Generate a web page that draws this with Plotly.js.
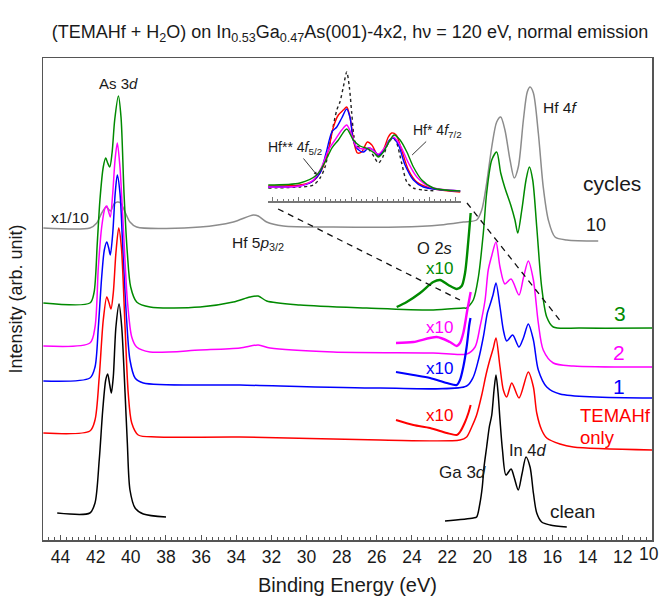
<!DOCTYPE html>
<html>
<head>
<meta charset="utf-8">
<script src="https://cdn.plot.ly/plotly-3.0.1.min.js"></script>
<style>html,body{margin:0;padding:0;background:#fff;}#chart{width:661px;height:602px;}</style>
</head>
<body>
<div id="chart"></div>
<script>
// ---- Main panel: binding energy (eV) and intensity (arb. unit, with stacking offsets) ----
// clean: As 3d segment and Ga 3d / In 4d segment
const cleanAsE = [44.19, 42.33, 42.04, 41.80, 41.60, 41.43, 41.32, 41.20, 41.11, 41.00, 40.85, 40.67, 40.52, 40.33, 40.20, 40.05, 39.76, 39.29, 38.00];
const cleanAsI = [27, 27, 37, 80, 130, 160, 166, 155, 147, 163, 213, 236, 213, 147, 97, 50, 32, 26, 23];
const cleanGaE = [22.12, 20.51, 20.32, 20.13, 20.00, 19.90, 19.75, 19.60, 19.46, 19.33, 19.22, 19.10, 18.99, 18.85, 18.65, 18.36, 18.19, 17.95, 17.74, 17.51, 17.28, 17.09, 16.90, 16.62, 16.14, 15.19];
const cleanGaI = [19, 22, 23, 37, 53, 73, 93, 113, 125, 150, 165, 147, 120, 90, 65, 71, 63, 50, 66, 83, 73, 47, 27, 18, 15, 13];

// TEMAHf only
const temahfE = [44.98, 42.33, 42.04, 41.80, 41.57, 41.37, 41.24, 41.13, 41.00, 40.85, 40.69, 40.54, 40.33, 40.15, 39.95, 39.58, 38.53, 33.79, 25.82, 21.27, 20.89, 20.60, 20.32, 20.03, 19.79, 19.62, 19.37, 19.22, 18.99, 18.80, 18.61, 18.32, 17.91, 17.38, 17.09, 16.90, 16.62, 16.33, 15.58, 14.82, 10.26];
const temahfI = [107, 109, 120, 163, 220, 243, 237, 231, 247, 287, 312, 293, 213, 147, 117, 105, 103, 103, 100, 100, 103, 113, 125, 145, 165, 177, 192, 202, 173, 150, 143, 157, 142, 168, 153, 127, 110, 102, 96, 93, 90];
const temahfX10E = [24.91, 23.92, 22.97, 22.02, 21.45, 21.27, 20.98, 20.79, 20.66];
const temahfX10I = [120, 115, 112, 107, 105, 108, 118, 127, 135];

// 1 cycle
const cyc1E = [44.98, 42.33, 42.04, 41.85, 41.66, 41.51, 41.37, 41.26, 41.17, 41.03, 40.89, 40.77, 40.62, 40.43, 40.24, 40.05, 39.76, 39.29, 33.79, 25.82, 20.89, 20.51, 20.22, 19.94, 19.71, 19.60, 19.39, 19.22, 18.99, 18.80, 18.61, 18.27, 17.91, 17.66, 17.38, 17.09, 16.81, 16.33, 15.58, 10.26];
const cyc1I = [159, 162, 173, 213, 263, 290, 298, 292, 285, 307, 347, 365, 347, 280, 220, 180, 162, 157, 155, 152, 154, 163, 180, 203, 227, 233, 245, 257, 233, 210, 199, 205, 193, 202, 216, 200, 170, 153, 146, 142];
const cyc1X10E = [24.91, 23.92, 22.97, 22.02, 21.45, 21.27, 21.08, 20.89, 20.74, 20.67];
const cyc1X10I = [168, 165, 162, 157, 155, 160, 173, 193, 215, 222];

// 2 cycles
const cyc2E = [44.98, 42.33, 42.04, 41.85, 41.66, 41.47, 41.37, 41.26, 41.17, 41.03, 40.90, 40.77, 40.62, 40.43, 40.20, 39.95, 39.67, 38.91, 36.06, 33.79, 32.75, 32.08, 28.49, 22.80, 20.89, 20.41, 20.13, 19.84, 19.66, 19.45, 19.22, 18.99, 18.71, 18.36, 17.91, 17.66, 17.38, 17.09, 16.81, 16.53, 15.96, 14.82, 10.26];
const cyc2I = [194, 197, 213, 273, 313, 332, 334, 328, 323, 347, 380, 397, 373, 313, 240, 203, 193, 188, 190, 192, 195, 192, 188, 187, 186, 193, 213, 240, 270, 285, 298, 273, 256, 261, 245, 262, 279, 260, 217, 190, 177, 174, 173];
const cyc2X10E = [24.91, 23.92, 22.59, 21.84, 21.45, 21.27, 21.08, 20.85, 20.66];
const cyc2X10I = [197, 198, 203, 198, 194, 197, 207, 230, 248];

// 3 cycles
const cyc3E = [44.98, 42.33, 42.10, 41.91, 41.76, 41.57, 41.43, 41.32, 41.20, 41.07, 40.92, 40.71, 40.56, 40.39, 40.20, 40.01, 39.67, 38.91, 36.06, 34.17, 33.22, 32.75, 32.27, 30.37, 26.58, 22.79, 21.08, 20.89, 20.51, 20.22, 19.94, 19.75, 19.46, 19.18, 18.95, 18.71, 18.38, 18.14, 17.98, 17.75, 17.51, 17.32, 17.13, 16.90, 16.62, 16.33, 15.96, 14.44, 10.28];
const cyc3I = [237, 237, 247, 297, 340, 373, 382, 377, 373, 387, 420, 444, 423, 347, 287, 253, 238, 233, 233, 238, 243, 244, 239, 235, 232, 230, 232, 232, 240, 263, 307, 347, 380, 388, 367, 352, 335, 320, 307, 330, 360, 373, 360, 313, 253, 223, 213, 212, 212];
const cyc3X10E = [24.87, 24.30, 23.54, 22.79, 22.40, 21.93, 21.45, 21.17, 20.98, 20.79, 20.66];
const cyc3X10I = [233, 238, 247, 258, 260, 255, 251, 254, 267, 300, 327];

// 10 cycles (x1/10 in the As 3d region)
const cyc10E = [44.98, 42.33, 41.94, 41.66, 41.41, 41.28, 41.15, 40.96, 40.77, 40.58, 40.33, 40.05, 39.67, 36.06, 34.17, 33.03, 32.75, 32.27, 31.32, 28.48, 24.68, 22.40, 21.08, 20.32, 20.03, 19.75, 19.46, 19.18, 18.95, 18.71, 18.42, 18.18, 17.95, 17.66, 17.44, 17.28, 17.09, 16.81, 16.53, 16.24, 15.86, 15.19, 13.40];
const cyc10I = [312, 312, 317, 327, 333, 331, 329, 336, 338, 337, 328, 318, 313, 313, 318, 325, 324, 318, 314, 313, 313, 315, 318, 320, 330, 357, 393, 418, 423, 410, 380, 362, 373, 420, 448, 453, 447, 407, 353, 320, 303, 300, 299];

// ---- Inset: Hf 4f region, binding energy (eV) and intensity ----
const insCleanE = [22.17, 20.96, 20.45, 20.19, 20.00, 19.74, 19.55, 19.43, 19.30, 19.17, 19.07, 18.98, 18.89, 18.79, 18.53, 18.34, 18.12, 17.96, 17.79, 17.58, 17.39, 17.26, 17.07, 16.87, 16.62, 16.24, 15.73];
const insCleanI = [13, 14, 16, 23, 34, 68, 91, 99, 114, 129, 114, 88, 64, 55, 53, 52, 44, 38, 44, 58, 63, 58, 38, 19, 13, 11, 10];
const insTemahfE = [22.17, 20.96, 20.45, 20.13, 19.87, 19.68, 19.49, 19.30, 19.17, 19.04, 18.89, 18.76, 18.60, 18.38, 18.21, 17.96, 17.77, 17.58, 17.45, 17.28, 17.07, 16.81, 16.49, 15.98, 14.83];
const insTemahfI = [15, 16, 20, 31, 51, 74, 86, 91, 94, 83, 58, 48, 49, 59, 56, 45, 51, 64, 68, 66, 51, 31, 19, 13, 9];
const insCyc1E = [22.17, 20.96, 20.51, 20.19, 19.96, 19.74, 19.55, 19.36, 19.17, 19.04, 18.92, 18.76, 18.53, 18.34, 18.15, 17.96, 17.74, 17.54, 17.39, 17.19, 16.94, 16.62, 16.24, 14.83];
const insCyc1I = [14, 15, 19, 28, 48, 69, 74, 83, 92, 83, 61, 52, 49, 53, 51, 46, 51, 61, 63, 56, 36, 21, 14, 10];
const insCyc2E = [22.17, 20.96, 20.45, 20.13, 19.87, 19.62, 19.36, 19.17, 18.98, 18.79, 18.53, 18.28, 17.96, 17.70, 17.39, 17.13, 16.81, 16.49, 15.98, 14.83];
const insCyc2I = [14, 15, 21, 34, 51, 61, 71, 76, 66, 54, 52, 53, 47, 54, 64, 56, 38, 24, 14, 10];
const insCyc3E = [22.17, 20.96, 20.32, 20.00, 19.74, 19.49, 19.17, 18.92, 18.66, 18.34, 18.12, 17.96, 17.77, 17.51, 17.36, 17.13, 16.87, 16.62, 16.30, 15.86, 14.83];
const insCyc3I = [16, 18, 26, 39, 53, 61, 72, 61, 55, 52, 48, 44, 49, 61, 66, 61, 49, 34, 21, 13, 10];

// ---- Axis ticks ----
const xTickVals = [44, 42, 40, 38, 36, 34, 32, 30, 28, 26, 24, 22, 20, 18, 16, 14, 12, 10];
const xTickText = ['44', '42', '40', '38', '36', '34', '32', '30', '28', '26', '24', '22', '20', '18', '16', '14', '12', '10'];

const X_MIN = 45, X_MAX = 10.34;

const C = {black: '#000000', red: '#ff0000', blue: '#0000ff', magenta: '#ff00ff', green: '#008a00', gray: '#8c8c8c'};

function mainLine(x, y, color, width) {
  return {x: x, y: y, type: 'scatter', mode: 'lines', xaxis: 'x', yaxis: 'y',
          line: {color: color, width: width || 1.5, shape: 'spline', smoothing: 0.8},
          hoverinfo: 'skip', showlegend: false};
}
function insetLine(x, y, color, dash) {
  return {x: x, y: y, type: 'scatter', mode: 'lines', xaxis: 'x2', yaxis: 'y2',
          line: {color: color, width: 1.4, shape: 'spline', smoothing: 0.8, dash: dash || 'solid'},
          hoverinfo: 'skip', showlegend: false};
}

const traces = [
  mainLine(cyc10E, cyc10I, C.gray),
  mainLine(cyc3E, cyc3I, C.green),
  mainLine(cyc2E, cyc2I, C.magenta),
  mainLine(cyc1E, cyc1I, C.blue),
  mainLine(temahfE, temahfI, C.red),
  mainLine(cleanAsE, cleanAsI, C.black),
  mainLine(cleanGaE, cleanGaI, C.black),
  mainLine(cyc3X10E, cyc3X10I, C.green, 2.4),
  mainLine(cyc2X10E, cyc2X10I, C.magenta, 2.4),
  mainLine(cyc1X10E, cyc1X10I, C.blue, 2.2),
  mainLine(temahfX10E, temahfX10I, C.red, 2.0),
  insetLine(insCleanE, insCleanI, '#222222', 'dot'),
  insetLine(insTemahfE, insTemahfI, C.red),
  insetLine(insCyc1E, insCyc1I, C.blue),
  insetLine(insCyc2E, insCyc2I, C.magenta),
  insetLine(insCyc3E, insCyc3I, C.green)
];

const FONT = 'Liberation Sans, Arial, Helvetica, sans-serif';

function txt(x, y, text, size, color, extra) {
  return Object.assign({x: x, y: y, xref: 'x', yref: 'y', text: text, showarrow: false,
    font: {family: FONT, size: size, color: color || '#1a1a1a'}}, extra || {});
}

const annotations = [
  txt(40.70, 457, 'As 3<i>d</i>', 15),
  txt(43.46, 323, 'x1/10', 15.5),
  txt(32.75, 297, 'Hf 5<i>p</i><sub>3/2</sub>', 15.5),
  txt(15.60, 433, 'Hf 4<i>f</i>', 15.5),
  txt(12.64, 357, 'cycles', 21),
  txt(13.53, 315, '10', 18),
  txt(22.72, 292, 'O 2<i>s</i>', 16.5),
  txt(22.46, 272, 'x10', 17, C.green),
  txt(22.46, 213, 'x10', 17, C.magenta),
  txt(22.46, 172, 'x10', 17, C.blue),
  txt(22.46, 125, 'x10', 17, C.red),
  txt(12.18, 227, '3', 21, C.green),
  txt(12.20, 188, '2', 21, C.magenta),
  txt(12.20, 154, '1', 21, C.blue),
  txt(14.55, 125, 'TEMAHf', 18.5, C.red, {xanchor: 'left'}),
  txt(14.55, 103, 'only', 18.5, C.red, {xanchor: 'left'}),
  txt(21.12, 68, 'Ga 3<i>d</i>', 17),
  txt(17.42, 90, 'In 4<i>d</i>', 16.5),
  txt(14.86, 29, 'clean', 19),
  {x: 20.31, y: 26, xref: 'x2', yref: 'y2', text: 'Hf** 4<i>f</i><sub>5/2</sub>', showarrow: true,
   ax: -22, ay: -27, arrowhead: 2, arrowsize: 0.7, arrowwidth: 0.9, arrowcolor: '#222',
   font: {family: FONT, size: 14, color: '#1a1a1a'}},
  {x: 16.67, y: 46, xref: 'x2', yref: 'y2', text: 'Hf* 4<i>f</i><sub>7/2</sub>', showarrow: true,
   ax: 25, ay: -24, arrowhead: 0, arrowwidth: 0.9, arrowcolor: '#222',
   font: {family: FONT, size: 14, color: '#1a1a1a'}},
  // last tick label (10) sits just past the frame, against the right edge
  {x: 1.0148, y: -0.03, xref: 'paper', yref: 'paper',
   text: xTickText[xTickText.length - 1], showarrow: false, yanchor: 'middle', xanchor: 'right',
   font: {family: FONT, size: 17.5, color: '#1a1a1a'}}
];

const shapes = [
  {type: 'line', xref: 'x', yref: 'y', x0: 31.62, y0: 331, x1: 21.27, y1: 240,
   line: {color: '#111', width: 1.3, dash: '6px,5px'}},
  {type: 'line', xref: 'x', yref: 'y', x0: 20.87, y0: 337, x1: 15.46, y1: 217,
   line: {color: '#111', width: 1.3, dash: '6px,5px'}}
];

const layout = {
  width: 661, height: 602,
  margin: {l: 43, r: 9, t: 58, b: 62, pad: 0},
  paper_bgcolor: '#ffffff', plot_bgcolor: '#ffffff',
  font: {family: FONT, size: 16, color: '#1a1a1a'},
  showlegend: false,
  title: {text: '(TEMAHf + H<sub>2</sub>O) on In<sub>0.53</sub>Ga<sub>0.47</sub>As(001)-4x2, h\u03bd = 120 eV, normal emission',
          x: 0.5295, xref: 'container', xanchor: 'center', y: 0.947, yref: 'container', yanchor: 'middle',
          font: {family: FONT, size: 18, color: '#1a1a1a'}},
  xaxis: {range: [X_MIN, X_MAX], domain: [0, 1], anchor: 'y',
          showgrid: false, zeroline: false, showline: true, mirror: true, linecolor: '#555', linewidth: 1.5,
          ticks: 'inside', ticklen: 5, tickwidth: 1, tickcolor: '#555',
          tickmode: 'array', tickvals: xTickVals, ticktext: xTickText,
          minor: {ticks: 'inside', ticklen: 3, tickwidth: 1, tickcolor: '#555', dtick: 1/3, tick0: 10, showgrid: false},
          tickfont: {family: FONT, size: 17.5, color: '#1a1a1a'},
          title: {text: 'Binding Energy (eV)', font: {family: FONT, size: 20, color: '#1a1a1a'}, standoff: 12},
          automargin: false, fixedrange: true},
  yaxis: {range: [0, 482], domain: [0, 1], anchor: 'x',
          showgrid: false, zeroline: false, showline: true, mirror: true, linecolor: '#555', linewidth: 1.5,
          ticks: '', showticklabels: false,
          title: {text: 'Intensity (arb. unit)', font: {family: FONT, size: 18, color: '#1a1a1a'}, standoff: 14},
          automargin: false, fixedrange: true},
  xaxis2: {range: [22.18, 14.80], domain: [0.3695, 0.6864], anchor: 'y2',
           showgrid: false, zeroline: false, showline: true, linecolor: '#777', linewidth: 1.5,
           ticks: 'inside', ticklen: 4, tickwidth: 1, tickcolor: '#777', dtick: 1, tick0: 15,
           minor: {ticks: 'inside', ticklen: 2, tickwidth: 1, tickcolor: '#777', dtick: 0.2, tick0: 15},
           showticklabels: false, fixedrange: true},
  yaxis2: {range: [0, 139], domain: [0.7033, 0.9917], anchor: 'x2', visible: false, fixedrange: true},
  annotations: annotations,
  shapes: shapes
};

Plotly.newPlot('chart', traces, layout, {displayModeBar: false, staticPlot: true});
</script>
</body>
</html>
